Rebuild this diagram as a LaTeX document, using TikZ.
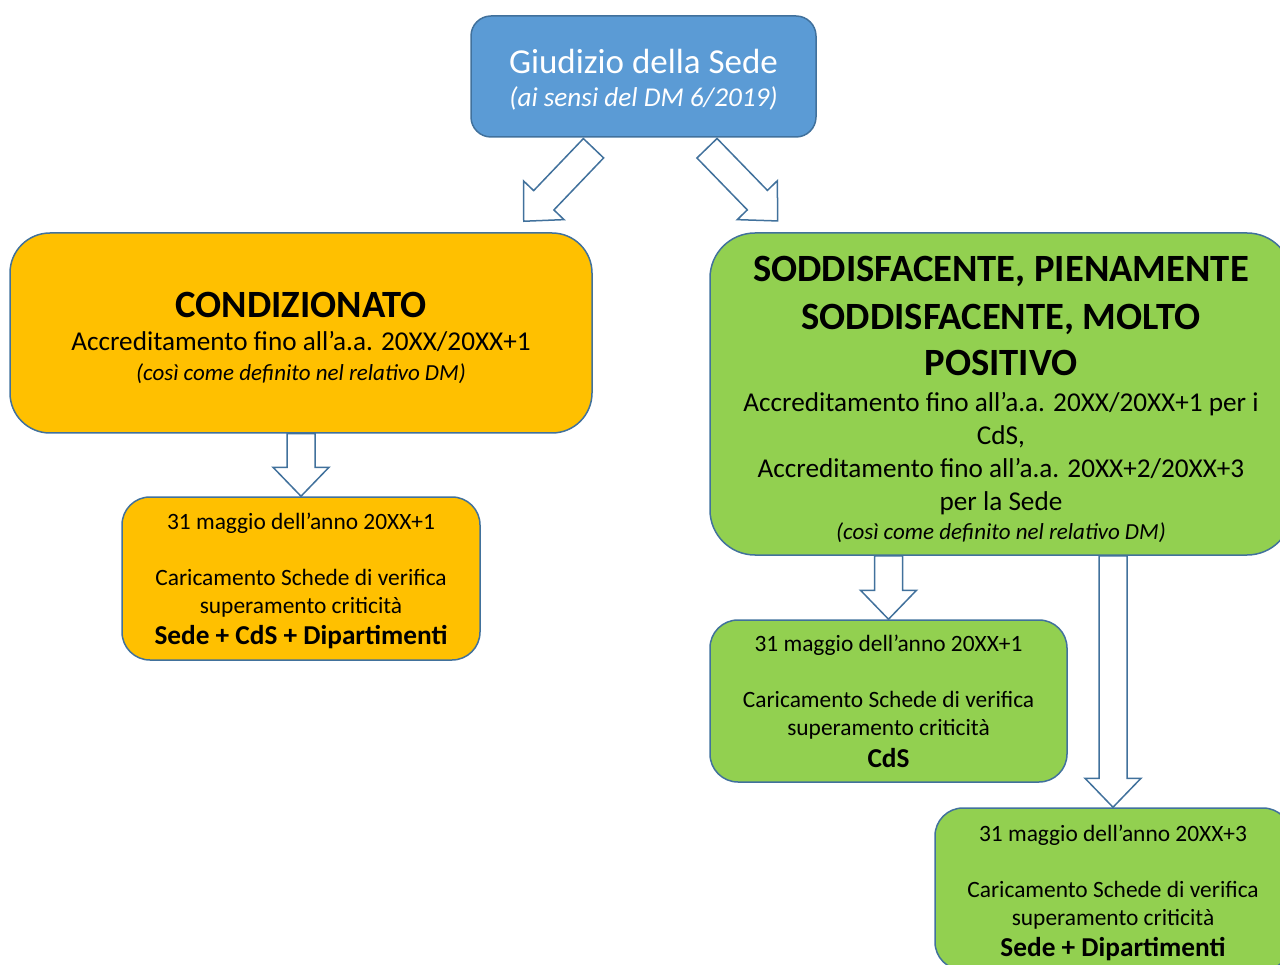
\documentclass[tikz,border=0pt]{standalone}
\usepackage{fontspec}
\setmainfont{Carlito}
\usetikzlibrary{calc}

\definecolor{giudblue}{HTML}{5B9BD5}
\definecolor{edgeblue}{HTML}{41719C}
\definecolor{condorange}{HTML}{FFC000}
\definecolor{soddgreen}{HTML}{92D050}

\newcommand\txttitle{\fontsize{35}{37}\selectfont}
\newcommand\txthead{\fontsize{38.6}{46}\selectfont\bfseries}
\newcommand\txtbody{\fontsize{27.2}{33}\selectfont}
\newcommand\txtnote{\fontsize{23}{29}\selectfont\itshape}
\newcommand\txtsmall{\fontsize{23.4}{28}\selectfont}
\newcommand\txtkey{\fontsize{27.3}{31}\selectfont\bfseries}
% extra room above a first line
\newcommand\padtop[2]{\raisebox{0pt}[\dimexpr\height+#1\relax]{#2}}

% block arrow from #1 to the tip #2
\newcommand\blockarrow[2]{%
  \draw[barrow] ($(#1)!14pt!-90:(#2)$) -- ($(#2)!29pt!(#1)!14pt!90:(#1)$)
    -- ($(#2)!29pt!(#1)!28pt!90:(#1)$) -- (#2)
    -- ($(#2)!29pt!(#1)!28pt!-90:(#1)$) -- ($(#2)!29pt!(#1)!14pt!-90:(#1)$)
    -- ($(#1)!14pt!90:(#2)$) -- cycle;}

\begin{document}
\begin{tikzpicture}[x=1pt,y=-1pt,
    box/.style={draw=edgeblue, line width=1.5pt, align=center, inner sep=0pt},
    barrow/.style={draw=edgeblue, fill=white, line width=1.5pt, line join=miter}]
    \path[use as bounding box, clip] (0,0) rectangle (1280,965);

    \node[box, fill=giudblue, text=white, minimum width=345, minimum height=121, rounded corners=20, font=\txtbody] (giud) at (643.5,76.5)
        {\txttitle\padtop{7pt}{Giudizio della Sede}\\ \txtbody\itshape (ai sensi del DM 6/2019)};

    \node[box, fill=condorange, minimum width=582, minimum height=200, rounded corners=40, font=\txtbody] (cond) at (301,333)
        {\txthead\padtop{10pt}{CONDIZIONATO}\\ \txtbody Accreditamento fino all’a.a. 20XX/20XX+1\\[-3pt] \txtnote (così come definito nel relativo DM)};
    \node[box, fill=condorange, minimum width=358, minimum height=163, rounded corners=28, font=\txtsmall] (condd) at (301,578.5)
        {\txtsmall\padtop{5pt}{31 maggio dell’anno 20XX+1}\\[28pt] \txtsmall Caricamento Schede di verifica\\ \txtsmall superamento criticità\\[3pt] \txtkey Sede + CdS + Dipartimenti};

    \node[box, fill=soddgreen, minimum width=582, minimum height=322, rounded corners=45, font=\txtbody] (sodd) at (1001,394)
        {\txthead\padtop{10pt}{SODDISFACENTE, PIENAMENTE}\\[15pt] \txthead SODDISFACENTE, MOLTO\\[13pt] \txthead POSITIVO\\[3pt]
         \txtbody Accreditamento fino all’a.a. 20XX/20XX+1 per i\\ \txtbody CdS,\\ \txtbody Accreditamento fino all’a.a. 20XX+2/20XX+3\\ \txtbody per la Sede\\[-4pt]
         \txtnote (così come definito nel relativo DM)};
    \node[box, fill=soddgreen, minimum width=357, minimum height=162, rounded corners=28, font=\txtsmall] (cdsd) at (888.5,701)
        {\txtsmall 31 maggio dell’anno 20XX+1\\[28pt] \txtsmall Caricamento Schede di verifica\\ \txtsmall superamento criticità\\[4pt] \txtkey CdS};
    \node[box, fill=soddgreen, minimum width=356, minimum height=162, rounded corners=28, font=\txtsmall] (sededip) at (1113,889)
        {\txtsmall\padtop{7pt}{31 maggio dell’anno 20XX+3}\\[28pt] \txtsmall Caricamento Schede di verifica\\ \txtsmall superamento criticità\\[3pt] \txtkey Sede + Dipartimenti};

    % arrows
    \coordinate (a1s) at ($(giud.south)+(-50,10.5)$);
    \coordinate (a1e) at ($(cond.north east)+(-69,-11)$);
    \coordinate (a2s) at ($(giud.south)+(63.5,10.5)$);
    \coordinate (a2e) at ($(sodd.north west)+(68.3,-11.3)$);
    \coordinate (a4s) at (cdsd.north |- sodd.south);
    \coordinate (a5s) at (sededip.north |- sodd.south);
    \blockarrow{a1s}{a1e}
    \blockarrow{a2s}{a2e}
    \blockarrow{cond.south}{condd.north}
    \blockarrow{a4s}{cdsd.north}
    \blockarrow{a5s}{sededip.north}
\end{tikzpicture}
\end{document}
